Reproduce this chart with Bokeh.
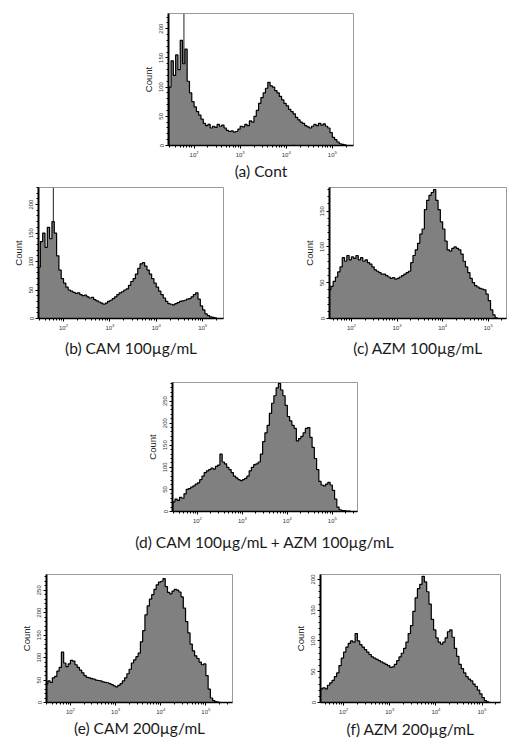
from bokeh.plotting import figure
from bokeh.layouts import column, row
from bokeh.models import Spacer, Span, Range1d, SingleIntervalTicker, FixedTicker, LogTickFormatter, ColumnDataSource, Title
from bokeh.embed import file_html
from bokeh.resources import INLINE

# ---- data: counts per log10 bin (bin width 0.05 decade starting at 10^1.45) ----
bin_start = 1.45
bin_width = 0.05

cont = [100, 145, 120, 155, 130, 180, 140, 165, 110, 90,
        75, 66, 58, 52, 45, 38, 34, 36, 30, 33,
        31, 36, 33, 35, 30, 26, 24, 25, 23, 24,
        28, 33, 32, 36, 34, 42, 40, 50, 60, 72,
        82, 90, 98, 108, 102, 100, 94, 90, 84, 78,
        72, 68, 62, 58, 54, 48, 44, 40, 38, 34,
        32, 30, 33, 36, 34, 38, 35, 37, 33, 30,
        22, 14, 10, 6, 3, 2, 1, 0, 0, 0]

cam100 = [90, 135, 150, 125, 160, 140, 170, 150, 110, 85,
          70, 62, 55, 50, 48, 46, 44, 45, 42, 40,
          41, 38, 36, 37, 33, 31, 29, 27, 25, 27,
          30, 32, 35, 38, 42, 45, 47, 50, 52, 58,
          65, 70, 78, 88, 96, 98, 92, 85, 78, 70,
          62, 55, 48, 42, 36, 30, 26, 25, 24, 26,
          28, 30, 31, 32, 34, 35, 38, 42, 45, 34,
          22, 15, 8, 5, 3, 2, 1, 0, 0, 0]

azm100 = [38, 40, 45, 52, 58, 65, 72, 85, 80, 88,
          82, 86, 84, 88, 82, 85, 80, 82, 78, 76,
          72, 68, 66, 64, 62, 62, 60, 58, 56, 57,
          55, 56, 58, 60, 62, 64, 66, 78, 88, 96,
          105, 118, 125, 152, 165, 172, 176, 180, 165, 152,
          135, 125, 108, 96, 94, 98, 100, 98, 96, 90,
          80, 72, 64, 56, 50, 46, 44, 42, 41, 40,
          34, 25, 12, 5, 1, 0, 0, 0, 0, 0]

cam_azm100 = [22, 28, 25, 32, 30, 40, 50, 52, 55, 58,
              62, 65, 72, 80, 88, 92, 95, 98, 96, 102,
              105, 130, 112, 108, 100, 95, 88, 80, 76, 72,
              70, 72, 75, 80, 92, 100, 106, 108, 112, 130,
              158, 178, 195, 222, 245, 262, 280, 290, 275, 262,
              240, 215, 205, 195, 188, 160, 165, 170, 178, 188,
              190, 168, 145, 120, 95, 68, 60, 58, 62, 66,
              60, 48, 28, 10, 4, 2, 2, 1, 1, 0]

cam200 = [42, 48, 45, 55, 58, 70, 78, 112, 88, 80,
          86, 94, 92, 84, 78, 72, 66, 60, 56, 55,
          53, 52, 50, 49, 48, 46, 45, 44, 42, 40,
          37, 35, 38, 42, 48, 55, 64, 74, 88, 95,
          102, 110, 135, 160, 195, 215, 230, 240, 252, 262,
          268, 270, 276, 258, 245, 242, 248, 252, 250, 246,
          235, 210, 180, 155, 130, 115, 104, 98, 90, 84,
          86, 60, 30, 10, 4, 2, 1, 0, 0, 0]

azm200 = [20, 22, 24, 22, 28, 32, 36, 42, 48, 60,
          72, 82, 90, 96, 100, 98, 112, 100, 94, 90,
          86, 82, 78, 74, 72, 70, 68, 66, 64, 62,
          60, 57, 58, 62, 68, 74, 80, 88, 98, 112,
          125, 148, 170, 185, 192, 205, 196, 180, 160, 135,
          118, 105, 98, 95, 98, 105, 115, 118, 106, 88,
          75, 62, 55, 48, 42, 38, 35, 30, 26, 20,
          14, 8, 3, 1, 0, 0, 0, 0, 0, 0]

captions = ["(a) Cont", "(b) CAM 100\u00b5g/mL", "(c) AZM 100\u00b5g/mL",
            "(d) CAM 100\u00b5g/mL + AZM 100\u00b5g/mL", "(e) CAM 200\u00b5g/mL",
            "(f) AZM 200\u00b5g/mL"]
x_lims = [(1.445, 5.46), (1.46, 5.45), (1.52, 5.40), (1.445, 5.56), (1.47, 5.59), (1.50, 5.40)]
y_maxes = [226, 230, 183, 292, 285, 208]
major_x = [1e2, 1e3, 1e4, 1e5]
gate_exp = 1.78

FILL = "#808080"


def panel(vals, caption, xl, ymax, fw, fh, bl, br, bt, bb, standoff, dx, gate=False):
    n = len(vals)
    lo = [bin_start + bin_width * i for i in range(n)]
    left = [10 ** e for e in lo]
    right = [10 ** (e + bin_width) for e in lo]
    p = figure(width=bl + fw + br, height=bt + fh + bb, x_axis_type="log",
               x_range=Range1d(10 ** xl[0], 10 ** xl[1]), y_range=Range1d(0, ymax),
               output_backend="svg", toolbar_location=None,
               min_border_left=bl, min_border_right=br, min_border_top=bt, min_border_bottom=bb,
               background_fill_color="white", border_fill_color="white")
    p.outline_line_color = "#9a9a9a"
    p.outline_line_width = 1
    p.grid.visible = False
    if gate:
        p.add_layout(Span(location=10 ** gate_exp, dimension="height", line_color="#222222",
                          line_width=1, level="underlay"))
    xs, ys = [left[0]], [0]
    for l, r, v in zip(left, right, vals):
        xs += [l, r]
        ys += [v, v]
    xs.append(right[-1]); ys.append(0)
    src = ColumnDataSource(dict(x=xs, y=ys))
    p.patch("x", "y", source=src, fill_color=FILL, line_color=None)
    p.line("x", "y", source=src, line_color="black", line_width=1.2)

    # x axis
    minor = [m * 10 ** d for d in range(1, 6) for m in range(2, 10)]
    p.xaxis.ticker = FixedTicker(ticks=major_x, minor_ticks=minor)
    p.xaxis.formatter = LogTickFormatter()
    p.xaxis.major_label_text_font = "Liberation Sans"
    p.xaxis.major_label_text_font_size = "6px"
    p.xaxis.major_label_text_color = "#333333"
    p.xaxis.major_label_standoff = 2
    p.xaxis.major_tick_out = 3
    p.xaxis.major_tick_in = 0
    p.xaxis.minor_tick_out = 2
    p.xaxis.minor_tick_in = 0
    p.xaxis.axis_line_width = 1.5

    t = Title(text=caption, align="center", offset=dx, standoff=standoff,
              text_font="Lato", text_font_size="15.5px", text_font_style="normal",
              text_color="#1a1a1a")
    p.add_layout(t, "below")

    # y axis
    p.yaxis.ticker = SingleIntervalTicker(interval=50, num_minor_ticks=5)
    p.yaxis.major_label_orientation = "vertical"
    p.yaxis.major_label_text_font = "Liberation Sans"
    p.yaxis.major_label_text_font_size = "6px"
    p.yaxis.major_label_text_color = "#333333"
    p.yaxis.major_label_standoff = 2
    p.yaxis.major_tick_out = 3
    p.yaxis.major_tick_in = 0
    p.yaxis.minor_tick_out = 2
    p.yaxis.minor_tick_in = 0
    p.yaxis.axis_line_width = 2
    p.yaxis.axis_label = "Count"
    p.yaxis.axis_label_text_font = "Liberation Sans"
    p.yaxis.axis_label_text_font_size = "9.5px"
    p.yaxis.axis_label_text_font_style = "normal"
    p.yaxis.axis_label_text_color = "#222222"
    p.yaxis.axis_label_standoff = 3
    return p


pa = panel(cont, captions[0], x_lims[0], y_maxes[0], 185, 132, 30, 10, 13, 40, 0, 1, gate=True)
pb = panel(cam100, captions[1], x_lims[1], y_maxes[1], 185, 131, 30, 10, 2, 45, 9, 6, gate=True)
pc = panel(azm100, captions[2], x_lims[2], y_maxes[2], 177, 132, 30, 2, 1, 45, 9, 2)
pd = panel(cam_azm100, captions[3], x_lims[3], y_maxes[3], 185, 129, 45, 45, 19, 46, 11, 3)
pe = panel(cam200, captions[4], x_lims[4], y_maxes[4], 186, 130, 30, 10, 17, 40, 1, -8)
pf = panel(azm200, captions[5], x_lims[5], y_maxes[5], 180, 129, 30, 2, 16, 42, 3, 6)

layout = column(
    row(Spacer(width=138, height=10), pa),
    row(Spacer(width=8, height=10), pb, Spacer(width=66, height=10), pc),
    row(Spacer(width=127, height=10), pd),
    row(Spacer(width=16, height=10), pe, Spacer(width=48, height=10), pf),
)

open("out.html", "w").write(file_html(layout, INLINE))
